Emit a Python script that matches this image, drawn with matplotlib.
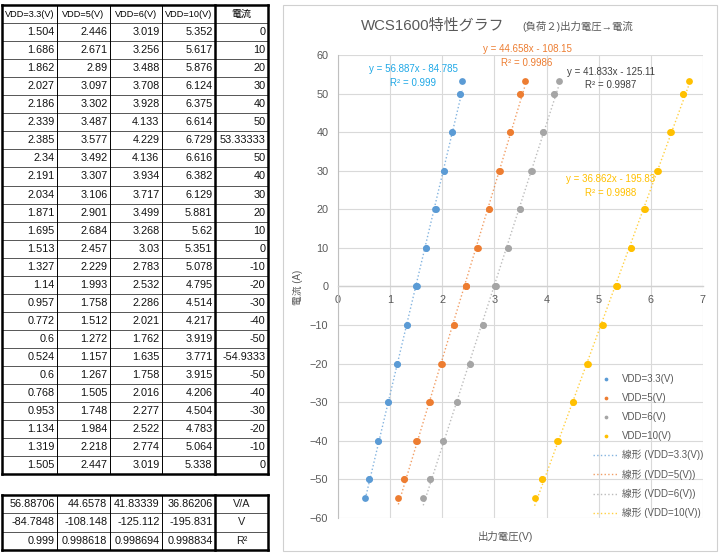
import numpy as np
import matplotlib
matplotlib.use('Agg')
import matplotlib.pyplot as plt
from matplotlib.patches import Rectangle

plt.rcParams['font.family'] = ['Liberation Sans', 'Noto Sans CJK JP', 'DejaVu Sans']

# measured data (output voltage per VDD, current)
headers = ['VDD=3.3(V)', 'VDD=5(V)', 'VDD=6(V)', 'VDD=10(V)', '電流']
v33 = [1.504, 1.686, 1.862, 2.027, 2.186, 2.339, 2.385, 2.34, 2.191, 2.034, 1.871, 1.695, 1.513,
       1.327, 1.14, 0.957, 0.772, 0.6, 0.524, 0.6, 0.768, 0.953, 1.134, 1.319, 1.505]
v5 = [2.446, 2.671, 2.89, 3.097, 3.302, 3.487, 3.577, 3.492, 3.307, 3.106, 2.901, 2.684, 2.457,
      2.229, 1.993, 1.758, 1.512, 1.272, 1.157, 1.267, 1.505, 1.748, 1.984, 2.218, 2.447]
v6 = [3.019, 3.256, 3.488, 3.708, 3.928, 4.133, 4.229, 4.136, 3.934, 3.717, 3.499, 3.268, 3.03,
      2.783, 2.532, 2.286, 2.021, 1.762, 1.635, 1.758, 2.016, 2.277, 2.522, 2.774, 3.019]
v10 = [5.352, 5.617, 5.876, 6.124, 6.375, 6.614, 6.729, 6.616, 6.382, 6.129, 5.881, 5.62, 5.351,
       5.078, 4.795, 4.514, 4.217, 3.919, 3.771, 3.915, 4.206, 4.504, 4.783, 5.064, 5.338]
current = [0, 10, 20, 30, 40, 50, 53.33333, 50, 40, 30, 20, 10, 0,
           -10, -20, -30, -40, -50, -54.9333, -50, -40, -30, -20, -10, 0]

# fit results table
slopes = [56.88706, 44.6578, 41.83339, 36.86206]
intercepts = [-84.7848, -108.148, -125.112, -195.831]
r2 = [0.999, 0.998618, 0.998694, 0.998834]
fit_units = ['V/A', 'V', 'R²']

series_names = ['VDD=3.3(V)', 'VDD=5(V)', 'VDD=6(V)', 'VDD=10(V)']
colors = ['#5B9BD5', '#ED7D31', '#A5A5A5', '#FFC000']
eq_colors = ['#1FA8E6', '#ED7D31', '#404040', '#FFC000']

W, H = 723, 556
fig = plt.figure(figsize=(W / 100, H / 100), dpi=100)
fig.patch.set_facecolor('white')

def fx(x):
    return x / W

def fy(y):
    return 1 - y / H

# background axes in pixel units for the spreadsheet part
bg = fig.add_axes([0, 0, 1, 1])
bg.set_xlim(0, W)
bg.set_ylim(H, 0)
bg.axis('off')

cols = [2, 57, 110, 162, 215, 268]
tfont = 7.8

def draw_grid(top, row_h, nrows):
    bottom = top + nrows * row_h
    for i in range(nrows + 1):
        y = top + i * row_h
        thick = i == 0 or i == nrows
        bg.plot([cols[0], cols[-1]], [y, y], color='black' if thick else '#3a3a3a',
                lw=1.8 if thick else 0.6, solid_capstyle='projecting')
    for j, x in enumerate(cols):
        thick = j in (0, 4, 5)
        bg.plot([x, x], [top, bottom], color='black', lw=1.8 if thick else 0.7,
                solid_capstyle='projecting')

# main table
top, row_h = 5, 18.05
table_cols = [v33, v5, v6, v10, current]
draw_grid(top, row_h, len(current) + 1)
for j, h in enumerate(headers):
    bg.text((cols[j] + cols[j + 1]) / 2, top + row_h / 2, h, ha='center', va='center',
            fontsize=6.6 if j < 4 else 7.2, color='black')
for i in range(len(current)):
    yc = top + (i + 1.5) * row_h
    for j, col in enumerate(table_cols):
        bg.text(cols[j + 1] - 2.5, yc, f'{col[i]:.7g}', ha='right', va='center',
                fontsize=tfont, color='#111111')

# fit table
top2, row_h2 = 495, 18.3
draw_grid(top2, row_h2, 3)
for i, row in enumerate([slopes, intercepts, r2]):
    yc = top2 + (i + 0.5) * row_h2
    for j, v in enumerate(row):
        bg.text(cols[j + 1] - 2.5, yc, f'{v:.7g}', ha='right', va='center',
                fontsize=tfont, color='#111111')
    bg.text((cols[4] + cols[5]) / 2, yc, fit_units[i], ha='center', va='center',
            fontsize=tfont, color='#222222')

# chart frame
bg.add_patch(Rectangle((283, 5), 434, 546, fill=False, edgecolor='#D0D0D0', lw=0.8))

# chart axes
x0, x1, y0, y1 = 338, 703, 55, 518
ax = fig.add_axes([fx(x0), fy(y1), (x1 - x0) / W, (y1 - y0) / H])
ax.set_facecolor('none')
ax.set_xlim(0, 7)
ax.set_ylim(-60, 60)
ax.set_xticks(range(0, 8))
ax.set_yticks(range(-60, 61, 10))
ax.grid(True, color='#D9D9D9', lw=0.8)
ax.set_axisbelow(True)
for s in ['top', 'right']:
    ax.spines[s].set_visible(False)
ax.spines['left'].set_color('#BFBFBF')
ax.spines['left'].set_linewidth(0.8)
ax.spines['bottom'].set_position(('data', 0))
ax.spines['bottom'].set_color('#D0D0D0')
ax.spines['bottom'].set_linewidth(1.0)
ax.tick_params(length=0, labelsize=7.8, labelcolor='#595959')
ax.tick_params(axis='y', pad=7)
ax.tick_params(axis='x', pad=6)

scat_handles, line_handles = [], []
for xs, name, c, a, b in zip([v33, v5, v6, v10], series_names, colors, slopes, intercepts):
    xs = np.array(xs)
    sc = ax.scatter(xs, current, s=24, color=c, zorder=3, label=name, linewidths=0)
    xr = np.array([xs.min(), xs.max()])
    ln, = ax.plot(xr, a * xr + b, ls=':', lw=1.0, color=c, alpha=0.75, zorder=2,
                  label=f'線形 ({name})')
    scat_handles.append(sc)
    line_handles.append(ln)

ax.legend(handles=scat_handles + line_handles, loc='upper left',
          bbox_to_anchor=(fx(593), fy(374)), bbox_transform=fig.transFigure,
          frameon=False, borderpad=0, fontsize=7, handlelength=2.6,
          handletextpad=0.35, labelspacing=0.92, scatterpoints=1, markerscale=0.55,
          labelcolor='#595959', borderaxespad=0)

# trendline equations
eq_pos = [(413, 69), (527, 49), (611, 72), (611, 179)]
for (px, py), a, b, r, c in zip(eq_pos, slopes, intercepts, r2, eq_colors):
    fig.text(fx(px), fy(py), f'y = {a:.5g}x - {abs(b):.5g}', ha='center', va='center',
             fontsize=7, color=c)
    fig.text(fx(px), fy(py + 13.5), f'R² = {r:.4g}', ha='center', va='center',
             fontsize=7, color=c)

# titles and axis labels
fig.text(fx(433), fy(25), 'WCS1600特性グラフ', ha='center', va='center',
         fontsize=10.8, color='#595959')
fig.text(fx(578), fy(27), '(負荷２)出力電圧→電流', ha='center', va='center',
         fontsize=7.5, color='#595959')
fig.text(fx(298), fy(287), '電流 (A)', ha='center', va='center', rotation=90,
         fontsize=7, color='#595959')
fig.text(fx(505), fy(537), '出力電圧(V)', ha='center', va='center',
         fontsize=7.5, color='#595959')

fig.savefig('out.png', dpi=100)
